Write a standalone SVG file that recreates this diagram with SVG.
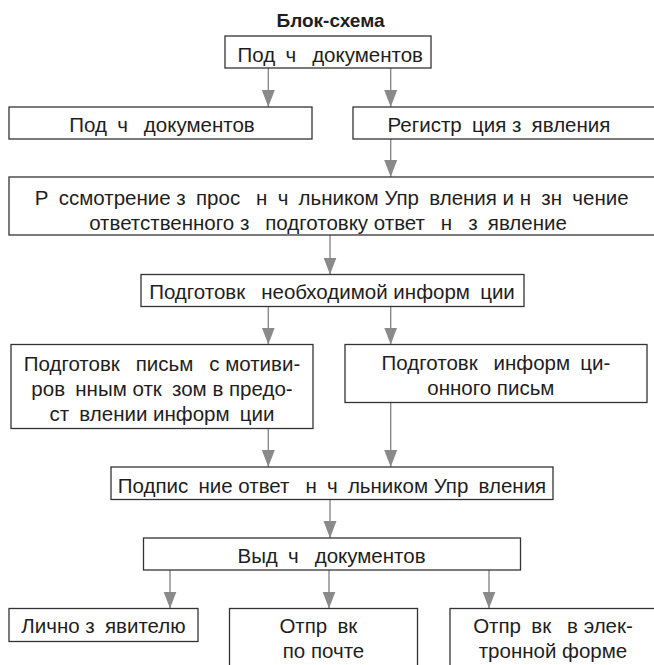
<svg xmlns="http://www.w3.org/2000/svg" width="654" height="665" viewBox="0 0 654 665">
<style>
.box{fill:#fff;stroke:#333;stroke-width:1.3}
.t{font-family:"Liberation Sans",Arial,sans-serif;font-size:20.5px;fill:#1e1e1e;text-anchor:middle;white-space:pre}
.title{font-family:"Liberation Sans",Arial,sans-serif;font-size:19px;font-weight:bold;fill:#1e1e1e;text-anchor:middle}
.c{stroke:#8a8a8a;stroke-width:1.4;fill:none;marker-end:url(#ah)}
</style>
<defs>
<marker id="ah" markerUnits="userSpaceOnUse" markerWidth="17" markerHeight="14" refX="17" refY="6.5" orient="auto" viewBox="0 0 17 13">
<path d="M0,0 L17,6.5 L0,13 z" fill="#8a8a8a"/>
</marker>
</defs>
<rect width="654" height="665" fill="#fff"/>
<text class="title" x="330.5" y="27">Блок-схема</text>
<g id="connectors">
<line class="c" x1="268.3" y1="68" x2="268.3" y2="107"/>
<line class="c" x1="390.7" y1="68" x2="390.7" y2="107"/>
<line class="c" x1="390.7" y1="139" x2="390.7" y2="177"/>
<line class="c" x1="330" y1="235" x2="330" y2="274.5"/>
<line class="c" x1="268.3" y1="306.5" x2="268.3" y2="344.5"/>
<line class="c" x1="390.7" y1="306.5" x2="390.7" y2="344.5"/>
<line class="c" x1="268.3" y1="428.5" x2="268.3" y2="467"/>
<line class="c" x1="390.7" y1="402.5" x2="390.7" y2="467"/>
<line class="c" x1="330" y1="499.5" x2="330" y2="538"/>
<line class="c" x1="170" y1="570" x2="170" y2="608.5"/>
<line class="c" x1="329" y1="570" x2="329" y2="608.5"/>
<line class="c" x1="489" y1="570" x2="489" y2="608.5"/>
</g>
<g id="n1"><rect class="box" x="225" y="36" width="206" height="32"/><text class="t" x="330.3" y="61.7">Под&#8194;ч&#8194; документов</text></g>
<g id="n2"><rect class="box" x="9" y="107" width="303" height="32"/><text class="t" x="162" y="132.3">Под&#8194;ч&#8194; документов</text></g>
<g id="n3"><rect class="box" x="353" y="107" width="303" height="32"/><text class="t" x="499" y="132.3">Регистр&#8194;ция з&#8194;явления</text></g>
<g id="n4"><rect class="box" x="9" y="177" width="647" height="58"/><text class="t" x="331.7" y="205">Р&#8194;ссмотрение з&#8194;прос&#8194; н&#8194;ч&#8194;льником Упр&#8194;вления и н&#8194;зн&#8194;чение</text><text class="t" x="328" y="229.5">ответственного з&#8194; подготовку ответ&#8194; н&#8194; з&#8194;явление</text></g>
<g id="n5"><rect class="box" x="141" y="274.5" width="383" height="32"/><text class="t" x="332" y="299.3">Подготовк&#8194; необходимой информ&#8194;ции</text></g>
<g id="n6"><rect class="box" x="11" y="344.5" width="302" height="84"/><text class="t" x="162" y="370.7">Подготовк&#8194; письм&#8194; с мотиви-</text><text class="t" x="162" y="396">ров&#8194;нным отк&#8194;зом в предо-</text><text class="t" x="162" y="421">ст&#8194;влении информ&#8194;ции</text></g>
<g id="n7"><rect class="box" x="345" y="344.5" width="302" height="58"/><text class="t" x="496" y="370">Подготовк&#8194; информ&#8194;ци-</text><text class="t" x="496" y="395">онного письм&#8194;</text></g>
<g id="n8"><rect class="box" x="111" y="467" width="442" height="32.5"/><text class="t" x="332" y="492.5">Подпис&#8194;ние ответ&#8194; н&#8194;ч&#8194;льником Упр&#8194;вления</text></g>
<g id="n9"><rect class="box" x="143.5" y="538" width="377" height="32"/><text class="t" x="331.5" y="563.3">Выд&#8194;ч&#8194; документов</text></g>
<g id="n10"><rect class="box" x="9" y="608.5" width="189" height="33"/><text class="t" x="103.5" y="633.3">Лично з&#8194;явителю</text></g>
<g id="n11"><rect class="box" x="229.5" y="608.5" width="188" height="70"/><text class="t" x="323.5" y="633.3">Отпр&#8194;вк&#8194;</text><text class="t" x="323.5" y="658.3">по почте</text></g>
<g id="n12"><rect class="box" x="450" y="608.5" width="210" height="70"/><text class="t" x="553" y="633.3">Отпр&#8194;вк&#8194; в элек-</text><text class="t" x="553" y="658.3">тронной форме</text></g>
</svg>
